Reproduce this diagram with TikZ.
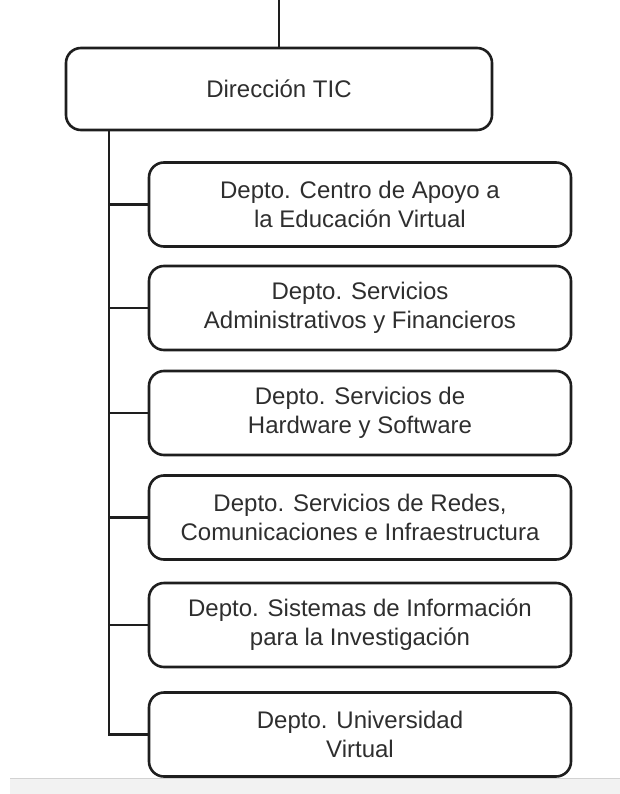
\documentclass[tikz,border=0pt]{standalone}
\usepackage{fontspec}
\setmainfont{Liberation Sans}
\usetikzlibrary{positioning}

\definecolor{linegray}{HTML}{1E1E1E}
\definecolor{textgray}{HTML}{2E2E2E}

\begin{document}
\begin{tikzpicture}[x=1pt,y=1pt,node distance=105.5pt,on grid,
    dept/.style={draw=linegray,line width=2.6pt,rounded corners=15pt,
      minimum width=422pt,minimum height=84pt,align=center,text=textgray,
      font=\fontsize{24}{29}\selectfont},
    conn/.style={draw=linegray,line width=2.8pt}]
	\useasboundingbox (0,0) rectangle (620,-794);
	% grey strip at the foot
	\fill[gray!10] (10,-778) rectangle (620,-794);
	\draw[gray!35,line width=1pt] (10,-778) -- (620,-778);

	\coordinate (top) at (279,0);
	\coordinate (trunk) at (109,0);

	\node[dept,minimum width=426pt,minimum height=82pt] (dir) at (279,-89) {Dirección TIC};
	\node[dept] (d1) at (360,-204.5) {Depto. Centro de Apoyo a\\la Educación Virtual};
	\node[dept] (d2) [below=103.5pt of d1] {Depto. Servicios\\Administrativos y Financieros};
	\node[dept] (d3) [below=105pt of d2] {Depto. Servicios de\\Hardware y Software};
	\node[dept] (d4) [below=104.5pt of d3] {Depto. Servicios de Redes,\\Comunicaciones e Infraestructura};
	\node[dept] (d5) [below=107.5pt of d4] {Depto. Sistemas de Información\\para la Investigación};
	\node[dept] (d6) [below=109.5pt of d5] {Depto. Universidad\\Virtual};

	\path[conn] (top) -- (dir.north);
	\path[conn] (dir.south -| trunk) |- (d6.west);
	\foreach \i in {1,...,5}
		\path[conn] (d\i.west -| trunk) -- (d\i.west);
\end{tikzpicture}
\end{document}
